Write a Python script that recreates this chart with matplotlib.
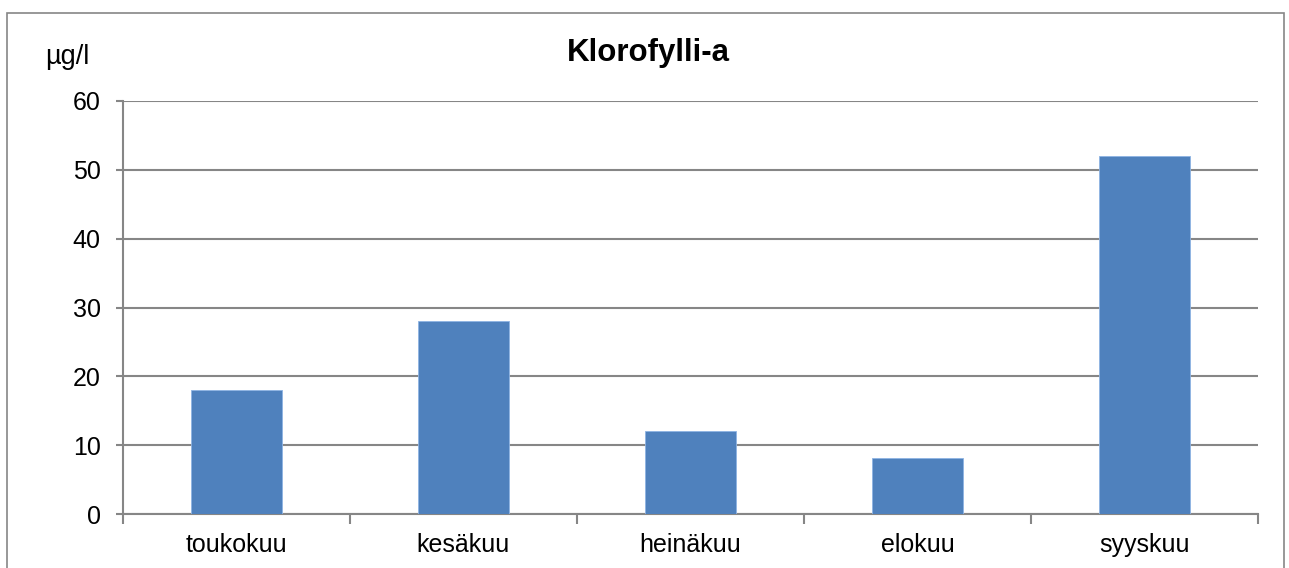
import matplotlib.pyplot as plt
from matplotlib.patches import Rectangle

plt.rcParams['font.family'] = ['Liberation Sans', 'DejaVu Sans']

months = ['toukokuu', 'kesäkuu', 'heinäkuu', 'elokuu', 'syyskuu']
values = [18, 28, 12, 8.2, 52]
yticks = [0, 10, 20, 30, 40, 50, 60]

W, H = 1289, 568
fig = plt.figure(figsize=(W / 100, H / 100), dpi=100)

# outer chart border
fig.patches.append(Rectangle((7 / W, -0.05), (1284 - 7) / W, 1 - 13 / H + 0.05,
                             transform=fig.transFigure, fill=False,
                             edgecolor='#868686', linewidth=1.2))

ax = fig.add_axes([123 / W, 1 - 514 / H, (1258 - 123) / W, (514 - 101) / H])

x = range(len(months))
ax.bar(x, values, width=0.4, color='#4f81bd', edgecolor='#8eb4e3',
       linewidth=0.6, zorder=3)

ax.set_xlim(-0.5, len(months) - 0.5)
ax.set_ylim(0, 60)
ax.set_yticks(yticks)
ax.yaxis.grid(True, color='#868686', linewidth=1.5, zorder=0)

# category boundaries as major ticks, labels centred in between
ax.set_xticks([i - 0.5 for i in range(len(months) + 1)])
ax.set_xticklabels([])
ax.set_xticks(list(x), minor=True)
ax.set_xticklabels(months, minor=True)
ax.tick_params(axis='x', which='major', length=7, width=1.5, color='#868686')
ax.tick_params(axis='x', which='minor', length=0, pad=14, labelsize=18)
ax.tick_params(axis='y', length=5, width=1.5, color='#868686', pad=11, labelsize=18)

for s in ['top', 'right']:
    ax.spines[s].set_visible(False)
for s in ['left', 'bottom']:
    ax.spines[s].set_color('#868686')
    ax.spines[s].set_linewidth(1.5)

fig.text(648 / W, 1 - 53 / H, 'Klorofylli-a', ha='center', va='center',
         fontsize=22.5, fontweight='bold')
fig.text(45 / W, 1 - 57 / H, 'µg/l', ha='left', va='center', fontsize=19.5)

fig.savefig('out.png', dpi=100)
